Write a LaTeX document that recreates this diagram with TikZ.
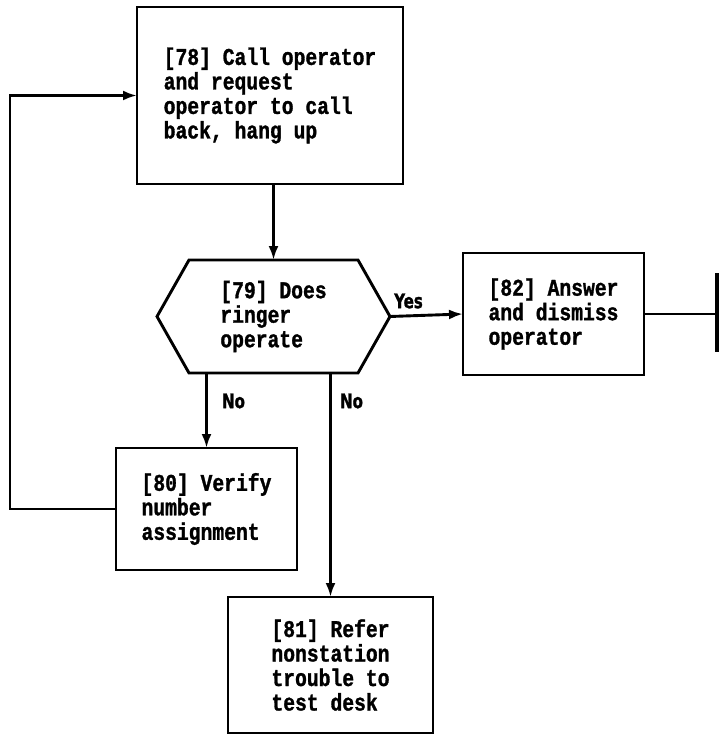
\documentclass[tikz,border=0pt]{standalone}
\usepackage{fontspec}
\usepackage{graphicx}
\usetikzlibrary{arrows.meta,calc}
\newfontfamily\monofnt[FakeStretch=0.82,FakeBold=1.2]{Liberation Mono}
\newfontfamily\labfnt[FakeBold=1.5]{DejaVu Sans}
\newcommand\labtxt[1]{\scalebox{0.75}[1]{\labfnt\bfseries\fontsize{20}{22}\selectfont #1}}
\begin{document}
\begin{tikzpicture}[x=1pt,y=-1pt,
  line width=2.9pt,
  every node/.style={inner sep=0pt,outer sep=0pt},
  boxtext/.style={font=\monofnt\bfseries\fontsize{24}{24.5}\selectfont,align=left},
  procbox/.style={draw,rectangle,boxtext},
  lab/.style={},
  arr/.style={-{Latex[length=14pt,width=10pt]}}]
\useasboundingbox (0,0) rectangle (719,735);
\node[procbox,minimum width=266pt,minimum height=177pt] (c78) at (270,95.5)
  {[78] Call operator\\and request\\operator to call\\back, hang up};
\node[boxtext,minimum width=233pt,minimum height=113pt] (q79) at (273.5,316.5)
  {[79] Does\\ringer\\operate};
\draw (q79.west) -- ($(q79.north west)+(32,0)$) -- ($(q79.north east)+(-32,0)$)
  -- (q79.east) -- ($(q79.south east)+(-32,0)$) -- ($(q79.south west)+(32,0)$) -- cycle;
\node[procbox,minimum width=181pt,minimum height=122pt] (a82) at (553.5,314)
  {[82] Answer\\and dismiss\\operator};
\node[procbox,minimum width=181pt,minimum height=122pt] (v80) at (206.5,509)
  {[80] Verify\\number\\assignment};
\node[procbox,minimum width=205pt,minimum height=136pt] (r81) at (330.5,665)
  {[81] Refer\\nonstation\\trouble to\\test desk};
\coordinate (endc) at (717,314);
\draw[arr] (c78.south -| q79.north) -- (q79.north);
\draw[arr] (q79.east) -- (a82.west);
\node[lab] (yes) at (408.5,301) {\labtxt{Yes}};
\draw[arr] (q79.south -| v80.north) -- (v80.north);
\draw[arr] (q79.south -| r81.north) -- (r81.north);
\node[lab] (no1) at (233.5,401) {\labtxt{No}};
\node[lab] (no2) at (351.5,401) {\labtxt{No}};
\draw (a82.east) -- (endc);
\draw[line width=3.6pt] (717,273) -- (717,352);
\draw[arr] (v80.west) -- ++(-106,0) |- (c78.west);
\end{tikzpicture}
\end{document}
